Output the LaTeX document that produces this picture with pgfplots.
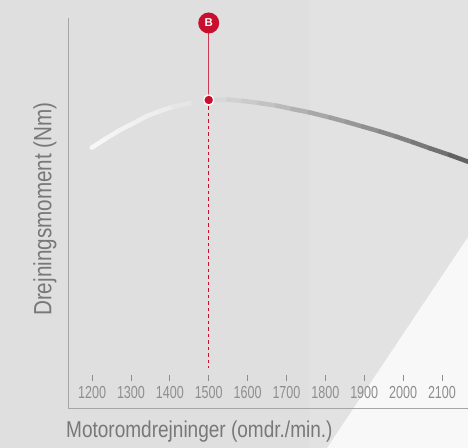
\documentclass[border=0pt]{standalone}
\usepackage{fontspec}
\usepackage{pgfplots}
\pgfplotsset{compat=1.18}
\setmainfont{Liberation Sans}
\newfontfamily\labfont{Liberation Sans}[FakeStretch=0.83]
\newfontfamily\tickfont{Liberation Sans}[FakeStretch=0.72]

\definecolor{bg}{HTML}{DFDFDF}
\definecolor{bglight}{HTML}{E2E2E2}
\definecolor{bgwhite}{HTML}{F8F8F8}
\definecolor{axgray}{HTML}{A6A6A6}
\definecolor{tickgray}{HTML}{8E8E8E}
\definecolor{labgray}{HTML}{787878}
\definecolor{vred}{HTML}{C8102E}
\definecolor{vredline}{HTML}{CC3A55}

\begin{document}
\begin{tikzpicture}[x=1bp,y=1bp]
\useasboundingbox (0,0) rectangle (468,448);
% background
\fill[bg] (0,0) rectangle (468,448);
\fill[bglight] (310,0) rectangle (468,448);
\fill[bgwhite] (327,0) -- (468,211) -- (468,0) -- cycle;

\begin{axis}[
    at={(68bp,40bp)}, anchor=south west,
    scale only axis,
    width=400bp, height=390bp,
    xmin=1138, xmax=2167,
    ymin=0, ymax=390,
    axis x line=bottom, axis y line=left,
    axis line style={-, axgray, line width=0.9bp},
    xtick=\empty, ytick=\empty,
    clip=false,
    colormap={curve}{rgb255(0cm)=(248,248,248) rgb255(2.1cm)=(235,235,235)
        rgb255(4.1cm)=(205,205,205) rgb255(6.2cm)=(165,165,165)
        rgb255(9.3cm)=(112,112,112) rgb255(10cm)=(90,90,90)},
    point meta min=1200, point meta max=2167,
]
% ticks and tick labels set inside the plot area
\pgfplotsinvokeforeach{1200,1300,1400,1500,1600,1700,1800,1900,2000,2100}{
  \draw[tickgray, line width=0.9bp] (axis cs:#1,27) -- (axis cs:#1,33);
  \node[tickgray, font=\tickfont\fontsize{17.5}{18}\selectfont] at (axis cs:#1,16) {#1};
}

% torque curve
\addplot[mesh, point meta=x, line width=4.5bp, line cap=round, line join=round] coordinates {
  (1199,260.3) (1240,270.5) (1272,278) (1310,285.5) (1341,292) (1375,297) (1409,301.3) (1460,305.5) (1503,308)
  (1550,308.3) (1589,307) (1630,305) (1675,302.3) (1715,299) (1760,295.5) (1812,290.5) (1855,286)
  (1897,281.3) (1940,276.5) (1983,271.3) (2025,265.8) (2069,259.7) (2120,253) (2167,246.3)
};

% marker B
\addplot[vredline, line width=1.3bp] coordinates {(1500,376) (1500,308)};
\addplot[vred, line width=1.5bp, dash pattern=on 3.5bp off 3bp] coordinates {(1500,308) (1500,40)};
\addplot[only marks, mark=*, mark size=5bp, mark options={fill=vred, draw=white, line width=1.2bp}] coordinates {(1500,308)};
\node[circle, fill=vred, minimum size=21bp, inner sep=0pt, text=white,
      font=\bfseries\fontsize{11.5}{12}\selectfont] at (axis cs:1500,385) {B};
\end{axis}

\node[labgray, rotate=90, font=\labfont\fontsize{25}{26}\selectfont] at (45,239) {Drejningsmoment (Nm)};
\node[labgray, anchor=west, inner sep=0pt, font=\labfont\fontsize{23}{24}\selectfont] at (66,16) {Motoromdrejninger (omdr./min.)};
\end{tikzpicture}
\end{document}
